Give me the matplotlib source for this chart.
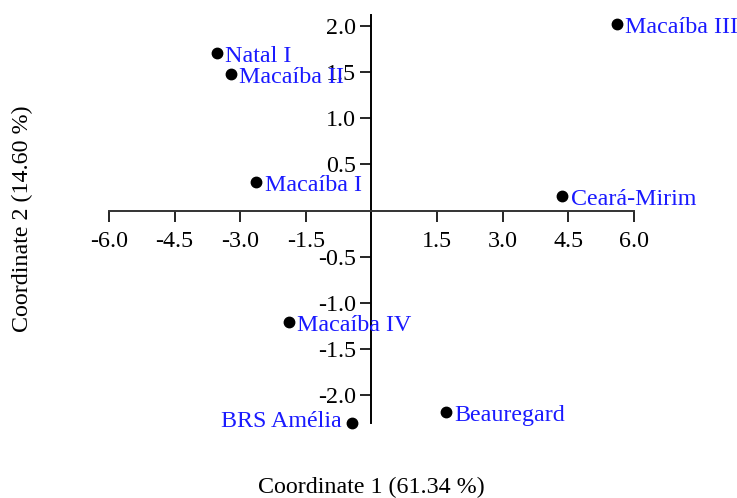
import matplotlib
matplotlib.use("Agg")
import matplotlib.pyplot as plt

plt.rcParams["font.family"] = ["Liberation Serif", "DejaVu Serif"]

# PCoA scores
names = ["Macaíba III", "Natal I", "Macaíba II", "Macaíba I", "Ceará-Mirim",
         "Macaíba IV", "Beauregard", "BRS Amélia"]
coord1 = [5.61, -3.54, -3.22, -2.63, 4.37, -1.88, 1.71, -0.45]
coord2 = [2.03, 1.71, 1.48, 0.31, 0.16, -1.21, -2.19, -2.31]
left_labels = ["BRS Amélia"]

xticks = [-6.0, -4.5, -3.0, -1.5, 1.5, 3.0, 4.5, 6.0]
yticks = [2.0, 1.5, 1.0, 0.5, -0.5, -1.0, -1.5, -2.0]

FS = 17.3

fig = plt.figure(figsize=(7.37, 4.98), dpi=100)
ax = fig.add_axes([0, 0, 1, 1])
ax.set_facecolor("none")

ax.plot(coord1, coord2, "o", color="black", markersize=7.5, zorder=3)
for n, x, y in zip(names, coord1, coord2):
    if n in left_labels:
        ax.annotate(n, (x, y), xytext=(-7, 1), textcoords="offset points",
                    ha="right", va="center", color="#1a1aff", fontsize=FS)
    else:
        ax.annotate(n, (x, y), xytext=(6, -2.5), textcoords="offset points",
                    ha="left", va="center", color="#1a1aff", fontsize=FS)

# axes crossing at the origin
ax.set_xlim(-8.49, 8.36)
ax.set_ylim(-3.122, 2.286)
for s in ("top", "right"):
    ax.spines[s].set_visible(False)
ax.spines["left"].set_position(("data", 0))
ax.spines["bottom"].set_position(("data", 0))
ax.spines["left"].set_bounds(-2.31, 2.12)
ax.spines["bottom"].set_bounds(-6.0, 6.0)
ax.spines["left"].set_linewidth(1.4)
ax.spines["bottom"].set_linewidth(1.4)
ax.spines["bottom"].set_color("#333333")

ax.set_xticks(xticks)
ax.set_xticklabels([f"{v:.1f}" for v in xticks])
ax.set_yticks(yticks)
ax.set_yticklabels([f"{v:.1f}" for v in yticks])
ax.tick_params(axis="x", direction="out", length=8, width=1.2, pad=7,
               labelsize=FS, colors="black")
ax.tick_params(axis="y", direction="out", length=8, width=1.2, pad=3,
               labelsize=FS, colors="black")

fig.text(0.504, 0.022, "Coordinate 1 (61.34 %)", ha="center", va="center",
         fontsize=FS)
fig.text(0.03, 0.56, "Coordinate 2 (14.60 %)", ha="center", va="center",
         rotation=90, fontsize=FS)

fig.savefig("out.png", dpi=100)
